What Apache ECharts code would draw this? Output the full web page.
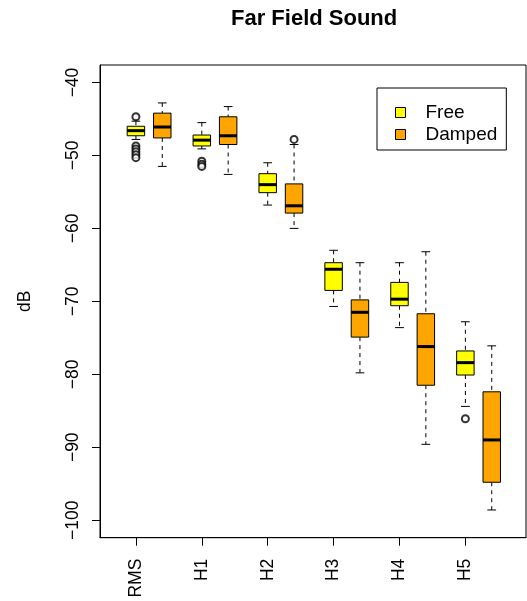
<!DOCTYPE html>
<html lang="en">
<head>
<meta charset="UTF-8">
<title>Far Field Sound</title>
<script src="https://cdn.jsdelivr.net/npm/echarts@6/dist/echarts.min.js"></script>
<style>
  html, body { margin: 0; padding: 0; background: #fff; }
</style>
</head>
<body>
<div id="main" style="width:527px; height:601px"></div>
<script>
// categories and tick labels
var categories = ['RMS', 'H1', 'H2', 'H3', 'H4', 'H5'];
var yTicks = [-100, -90, -80, -70, -60, -50, -40];

// box stats per category: [lower whisker, Q1, median, Q3, upper whisker] (dB)
var freeStats = [
  [-47.8, -47.3, -46.6, -46.0, -45.3],
  [-49.1, -48.7, -47.9, -47.2, -45.5],
  [-56.8, -55.1, -54.0, -52.5, -51.0],
  [-70.7, -68.5, -65.6, -64.7, -63.0],
  [-73.6, -70.6, -69.7, -67.4, -64.7],
  [-84.4, -80.1, -78.4, -76.8, -72.8]
];
var dampedStats = [
  [-51.5, -47.6, -46.1, -44.2, -42.8],
  [-52.6, -48.5, -47.3, -44.7, -43.3],
  [-60.0, -57.9, -56.9, -53.9, -48.5],
  [-79.8, -74.9, -71.5, -69.8, -64.7],
  [-89.6, -81.5, -76.2, -71.7, -63.2],
  [-98.6, -94.8, -89.0, -82.4, -76.1]
];

// outliers: [category index, value]
var freeOutliers = [
  [0, -44.7], [0, -48.7], [0, -49.1], [0, -49.5], [0, -49.9], [0, -50.3],
  [1, -50.8], [1, -51.2], [1, -51.5],
  [5, -86.1]
];
var dampedOutliers = [
  [2, -47.8]
];

var FONT = 'Liberation Sans';
var dampedShift = 0.4;
var boxWidth = 0.265;

function boxData(stats, shift) {
  return stats.map(function (s, i) { return [i + 1 + shift].concat(s); });
}
function outlierData(list, shift) {
  return list.map(function (o) { return [o[0] + 1 + shift, o[1]]; });
}

function renderBox(params, api) {
  var x = api.value(0);
  var lo = api.coord([x, api.value(1)]);
  var q1 = api.coord([x, api.value(2)]);
  var md = api.coord([x, api.value(3)]);
  var q3 = api.coord([x, api.value(4)]);
  var hi = api.coord([x, api.value(5)]);
  var half = api.size([boxWidth, 0])[0] / 2;
  var cap = half / 2;
  var cx = lo[0];
  var fill = api.visual('color');
  var dash = { stroke: '#000', lineWidth: 1, lineDash: [4, 4] };
  var solid = { stroke: '#000', lineWidth: 1 };
  return {
    type: 'group',
    children: [
      { type: 'line', shape: { x1: cx, y1: hi[1], x2: cx, y2: q3[1] }, style: dash },
      { type: 'line', shape: { x1: cx, y1: q1[1], x2: cx, y2: lo[1] }, style: dash },
      { type: 'line', shape: { x1: cx - cap, y1: hi[1], x2: cx + cap, y2: hi[1] }, style: solid },
      { type: 'line', shape: { x1: cx - cap, y1: lo[1], x2: cx + cap, y2: lo[1] }, style: solid },
      { type: 'rect', shape: { x: cx - half, y: q3[1], width: half * 2, height: q1[1] - q3[1] },
        style: { fill: fill, stroke: '#000', lineWidth: 1 } },
      { type: 'line', shape: { x1: cx - half, y1: md[1], x2: cx + half, y2: md[1] },
        style: { stroke: '#000', lineWidth: 3 } }
    ]
  };
}

var chart = echarts.init(document.getElementById('main'));
chart.setOption({
  animation: false,
  backgroundColor: '#fff',
  title: {
    text: 'Far Field Sound',
    left: 231,
    top: 8,
    padding: 0,
    textStyle: { fontFamily: FONT, fontSize: 22, fontWeight: 'bold', color: '#000', lineHeight: 22 }
  },
  legend: {
    data: ['Free', 'Damped'],
    orient: 'vertical',
    left: 377,
    top: 88,
    icon: 'rect',
    itemWidth: 10,
    itemHeight: 10,
    itemGap: 3,
    padding: [15, 9, 6, 18],
    borderColor: '#000',
    borderWidth: 1,
    itemStyle: { borderColor: '#000', borderWidth: 1 },
    textStyle: { fontFamily: FONT, fontSize: 19, color: '#000', lineHeight: 18, padding: [0, 0, 0, 15] }
  },
  grid: {
    left: 100, top: 65, width: 426, height: 472.7,
    show: true, borderColor: '#000', borderWidth: 1, backgroundColor: 'transparent'
  },
  xAxis: {
    type: 'value',
    min: 0.455,
    max: 6.92,
    splitLine: { show: false },
    axisLine: { show: true, lineStyle: { color: '#000' } },
    axisTick: { show: true, length: 8, customValues: [1, 2, 3, 4, 5, 6], lineStyle: { color: '#000' } },
    axisLabel: {
      customValues: [1, 2, 3, 4, 5, 6],
      rotate: 90,
      margin: 21,
      fontFamily: FONT, fontSize: 17.5, color: '#000',
      formatter: function (v) { return categories[Math.round(v) - 1]; }
    }
  },
  yAxis: {
    type: 'value',
    min: -102.4,
    max: -37.6,
    name: 'dB',
    nameLocation: 'middle',
    nameRotate: 90,
    nameGap: 66,
    nameTextStyle: { fontFamily: FONT, fontSize: 17.5, color: '#000' },
    splitLine: { show: false },
    axisLine: { show: true, lineStyle: { color: '#000' } },
    axisTick: { show: true, length: 8, customValues: yTicks, lineStyle: { color: '#000' } },
    axisLabel: {
      customValues: yTicks,
      rotate: 90,
      margin: 18,
      fontFamily: FONT, fontSize: 17.5, color: '#000',
      formatter: function (v) { return String(v).replace('-', '\u2212'); }
    }
  },
  series: [
    {
      name: 'Free', type: 'custom', renderItem: renderBox,
      itemStyle: { color: '#FFFF00', borderColor: '#000', borderWidth: 1 },
      encode: { x: 0, y: [1, 2, 3, 4, 5] },
      data: boxData(freeStats, 0)
    },
    {
      name: 'Damped', type: 'custom', renderItem: renderBox,
      itemStyle: { color: '#FFA500', borderColor: '#000', borderWidth: 1 },
      encode: { x: 0, y: [1, 2, 3, 4, 5] },
      data: boxData(dampedStats, dampedShift)
    },
    {
      name: 'Free outliers', type: 'scatter', symbol: 'emptyCircle', symbolSize: 7,
      itemStyle: { color: '#000', borderColor: '#000', borderWidth: 1 },
      data: outlierData(freeOutliers, 0), z: 5
    },
    {
      name: 'Damped outliers', type: 'scatter', symbol: 'emptyCircle', symbolSize: 7,
      itemStyle: { color: '#000', borderColor: '#000', borderWidth: 1 },
      data: outlierData(dampedOutliers, dampedShift), z: 5
    }
  ]
});
</script>
</body>
</html>
